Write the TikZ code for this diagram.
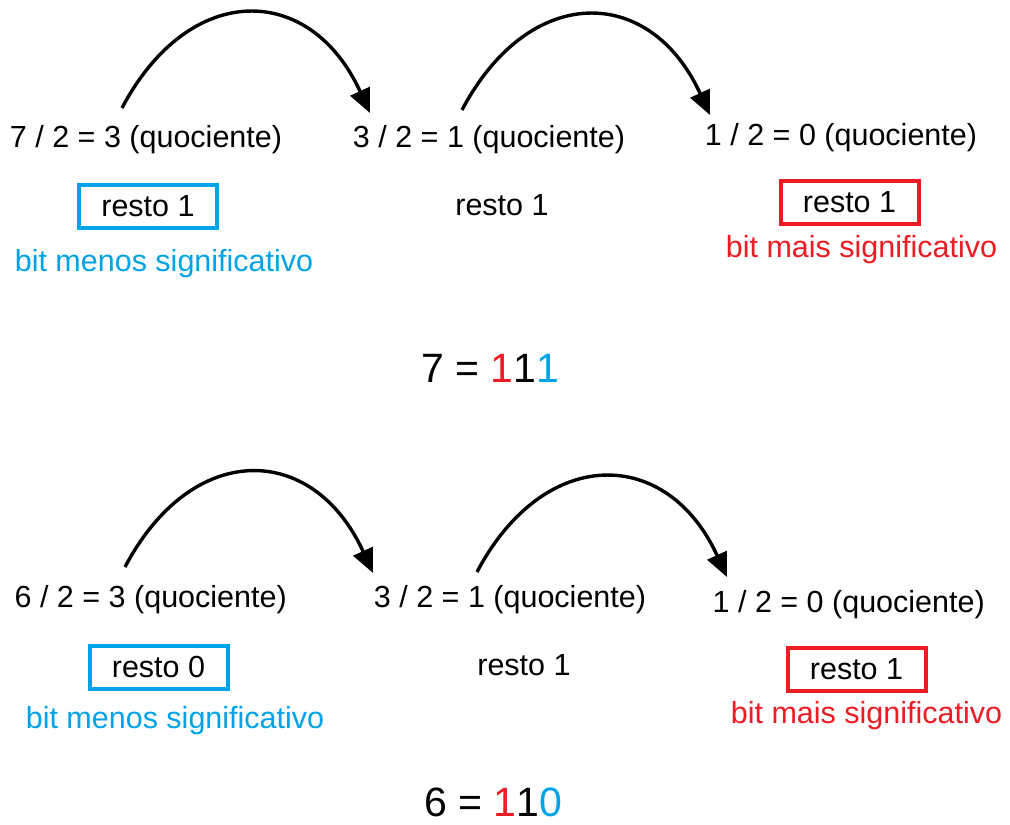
\documentclass[tikz,border=0pt]{standalone}
\usepackage{fontspec}
\setmainfont{Liberation Sans}
\usetikzlibrary{arrows.meta}
\definecolor{pblue}{HTML}{00A2E8}
\definecolor{pred}{HTML}{ED1C24}
\tikzset{
  txt/.style={anchor=base, inner sep=0pt, font=\fontsize{30.5}{36}\selectfont},
  bigtxt/.style={anchor=base, inner sep=0pt, font=\fontsize{41}{48}\selectfont},
  boxed/.style={draw, line width=4pt, minimum width=138pt, minimum height=43pt, inner sep=0pt,
    font=\fontsize{30.5}{36}\selectfont},
  bluebox/.style={boxed, draw=pblue},
  redbox/.style={boxed, draw=pred},
  arr/.style={line width=3.4pt, -{Triangle[length=24pt,width=21pt]}},
}
\begin{document}
\begin{tikzpicture}[x=1pt,y=-1pt]
\useasboundingbox (0,0) rectangle (1010,825);
% ---------- top: 7 ----------
\node[txt] (q1) at (146,147) {7 / 2 = 3 (quociente)};
\node[txt] (q2) at (489,147) {3 / 2 = 1 (quociente)};
\node[txt] (q3) at (841,145) {1 / 2 = 0 (quociente)};
\node[bluebox] (b1) at (148,206.5) {resto 1};
\node[txt] (r2) at (502,215) {resto 1};
\node[redbox] (b3) at (849.5,202.5) {resto 1};
\node[txt, text=pblue] (l1) at (164,271) {bit menos significativo};
\node[txt, text=pred] (l3) at (861.5,257) {bit mais significativo};
\node[bigtxt] (res1) at (490,382) {7 = \textcolor{pred}{1}1\textcolor{pblue}{1}};
\draw[arr] ([shift={(-24,-39)}]q1.base) .. controls +(67,-127) and +(-60,-131) .. ([shift={(-119,-34)}]q2.base);
\draw[arr] ([shift={(-27,-37)}]q2.base) .. controls +(67,-127) and +(-60,-131) .. ([shift={(-131,-30)}]q3.base);
% ---------- bottom: 6 ----------
\node[txt] (q4) at (150.7,607) {6 / 2 = 3 (quociente)};
\node[txt] (q5) at (510,607) {3 / 2 = 1 (quociente)};
\node[txt] (q6) at (848.7,612) {1 / 2 = 0 (quociente)};
\node[bluebox] (b4) at (158.5,667) {resto 0};
\node[txt] (r5) at (524,675) {resto 1};
\node[redbox] (b6) at (856.5,669) {resto 1};
\node[txt, text=pblue] (l4) at (175,728) {bit menos significativo};
\node[txt, text=pred] (l6) at (866.5,723) {bit mais significativo};
\node[bigtxt] (res2) at (493,816) {6 = \textcolor{pred}{1}1\textcolor{pblue}{0}};
\draw[arr] ([shift={(-25.7,-40)}]q4.base) .. controls +(67,-127) and +(-60,-131) .. ([shift={(-137,-34)}]q5.base);
\draw[arr] ([shift={(-33,-35)}]q5.base) .. controls +(67,-127) and +(-60,-131) .. ([shift={(-121.7,-35)}]q6.base);
\end{tikzpicture}
\end{document}
